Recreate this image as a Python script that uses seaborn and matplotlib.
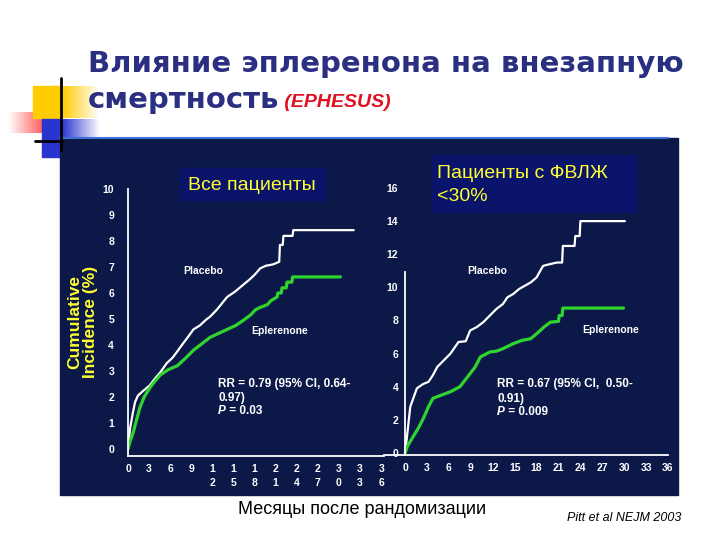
import numpy as np
import matplotlib.pyplot as plt
import seaborn as sns
from matplotlib.patches import Rectangle
from matplotlib.colors import to_rgb

sns.set_style("white")
plt.rcParams['font.family'] = ['Liberation Sans', 'DejaVu Sans']

# --- data (months, cumulative incidence %) ---
all_placebo_m = [0, 0.3, 0.7, 1.0, 1.4, 2.0, 3.1, 3.8, 4.6, 5.5, 6.3, 7.0, 7.8, 8.5, 9.3,
                 10.2, 11.0, 11.7, 12.6, 13.5, 14.1, 15.2, 16.3, 17.2, 18.0, 18.8, 19.6,
                 20.6, 21.5, 21.6, 22.0, 22.1, 23.4, 23.5, 32.1]
all_placebo_v = [0, 0.8, 1.4, 1.8, 2.05, 2.2, 2.45, 2.7, 2.95, 3.3, 3.5, 3.75, 4.05, 4.3, 4.6,
                 4.75, 4.95, 5.1, 5.35, 5.65, 5.85, 6.05, 6.3, 6.5, 6.7, 6.95, 7.05,
                 7.1, 7.2, 7.85, 7.85, 8.2, 8.2, 8.42, 8.42]
all_epl_m = [0, 0.3, 0.7, 1.2, 1.7, 2.3, 3.1, 3.8, 4.6, 5.7, 7.0, 8.2, 9.3, 10.5, 11.7,
             12.9, 14.1, 15.3, 16.4, 17.4, 18.1, 18.8, 19.8, 20.3, 21.2, 21.3, 21.8, 21.9,
             22.5, 22.6, 23.3, 23.4, 30.2]
all_epl_v = [0, 0.3, 0.6, 1.1, 1.6, 2.0, 2.35, 2.6, 2.85, 3.05, 3.2, 3.5, 3.8, 4.05, 4.3,
             4.45, 4.6, 4.75, 4.95, 5.15, 5.35, 5.45, 5.55, 5.7, 5.85, 6.0, 6.0, 6.2,
             6.2, 6.42, 6.42, 6.62, 6.62]

lv_placebo_m = [0, 0.3, 0.7, 1.6, 2.4, 3.2, 3.8, 4.4, 5.3, 6.2, 7.3, 8.3, 8.9, 9.8, 10.7,
                11.6, 12.5, 13.4, 14.0, 14.8, 15.6, 16.4, 17.2, 18.0, 18.5, 18.9, 19.8,
                20.8, 21.5, 21.6, 23.2, 23.3, 23.9, 24.0, 30.1]
lv_placebo_v = [0, 1.2, 2.8, 3.9, 4.15, 4.3, 4.7, 5.2, 5.6, 6.0, 6.7, 6.75, 7.4, 7.6, 7.9,
                8.3, 8.7, 9.0, 9.4, 9.6, 9.9, 10.1, 10.3, 10.6, 11.0, 11.3, 11.4,
                11.5, 11.5, 12.5, 12.5, 13.1, 13.1, 14.0, 14.0]
lv_epl_m = [0, 0.3, 1.1, 1.8, 2.5, 3.2, 3.8, 5.0, 6.2, 7.5, 8.2, 8.9, 9.6, 10.3, 11.6,
            12.5, 13.4, 14.8, 16.0, 17.2, 18.0, 19.0, 19.9, 21.0, 21.1, 21.5, 21.6, 29.9]
lv_epl_v = [0, 0.4, 1.0, 1.5, 2.1, 2.8, 3.3, 3.5, 3.7, 4.0, 4.4, 4.8, 5.2, 5.8, 6.1,
            6.15, 6.3, 6.6, 6.8, 6.9, 7.2, 7.6, 7.9, 7.95, 8.3, 8.3, 8.75, 8.75]

month_ticks = list(range(0, 37, 3))
left_xlabels = ["0", "3", "6", "9", "1\n2", "1\n5", "1\n8", "2\n1", "2\n4",
                "2\n7", "3\n0", "3\n3", "3\n6"]
left_yticks = list(range(0, 11))
right_yticks = list(range(0, 17, 2))

PANEL = "#0b1848"
BOX = "#0a146a"
GREEN = "#2fd42f"
YELLOW = "#ffff33"

fig = plt.figure(figsize=(7.2, 5.4), dpi=100)
fig.patch.set_facecolor("white")

# background / decoration layer in pixel coordinates
bg = fig.add_axes([0, 0, 1, 1], zorder=0)
bg.axis("off")


def gradient(x0, x1, y0, y1, color, fade="right"):
    n = 64
    img = np.zeros((1, n, 4))
    img[..., :3] = to_rgb(color)
    img[..., 3] = np.linspace(1, 0, n) if fade == "right" else np.linspace(0, 1, n)
    bg.imshow(img, extent=(x0, x1, y1, y0), aspect="auto", interpolation="bilinear")


bg.add_patch(Rectangle((33, 86), 29, 32, color="#ffcc00"))
gradient(62, 100, 86, 118, "#ffcc00", "right")
gradient(8, 56, 112, 133, "#ff2020", "left")
bg.add_patch(Rectangle((42, 119), 20, 38, color="#2a35d0"))
gradient(62, 100, 119, 138, "#2a35d0", "right")
bg.add_patch(Rectangle((60, 138), 618, 357, color=PANEL))
bg.plot([60, 668], [137.5, 137.5], color="#3d6fd6", lw=1.5)
bg.plot([61, 61], [78, 150], color="black", lw=2)
bg.plot([35, 62], [141, 141], color="black", lw=2)

# sub-title boxes
bg.add_patch(Rectangle((180, 168), 145, 32, color=BOX))
bg.add_patch(Rectangle((432, 155), 204, 57, color=BOX))
bg.text(252, 185, "Все пациенты", color=YELLOW, fontsize=14, ha="center", va="center")
bg.text(437, 185, "Пациенты с ФВЛЖ\n<30%", color=YELLOW, fontsize=14,
        ha="left", va="center", linespacing=1.4)

# title
bg.text(88, 64, "Влияние эплеренона на внезапную", fontsize=21, fontweight="bold",
        color="#2b2f82", va="center", family=["DejaVu Sans"])
t2 = bg.text(88, 100, "смертность", fontsize=21, fontweight="bold",
             color="#2b2f82", va="center", family=["DejaVu Sans"])
bg.annotate(" (EPHESUS)", xy=(1, 0.12), xycoords=t2, fontsize=14, fontweight="bold",
            style="italic", color="#e01020", va="bottom", ha="left")

bg.text(362, 510, "Месяцы после рандомизации", fontsize=13, color="black",
        ha="center", va="center")
bg.text(624, 518, "Pitt et al NEJM 2003", fontsize=9, style="italic", color="black",
        ha="center", va="center")

bg.text(83, 322, "Cumulative\nIncidence (%)", rotation=90, fontsize=12.5,
        fontweight="bold", color=YELLOW, ha="center", va="center", linespacing=1.05)

bg.set_xlim(0, 720)
bg.set_ylim(540, 0)


def style_axes(ax):
    ax.set_facecolor("none")
    for s in ["top", "right"]:
        ax.spines[s].set_visible(False)
    for s in ["left", "bottom"]:
        ax.spines[s].set_color("white")
        ax.spines[s].set_linewidth(1.3)
    ax.tick_params(colors="white", labelcolor="white", labelsize=7.5, width=1,
                   direction="out")
    for lab in ax.get_xticklabels() + ax.get_yticklabels():
        lab.set_fontweight("bold")
    ax.set_xlabel("")
    ax.set_ylabel("")


def draw(ax, m, v, color, lw):
    sns.lineplot(x=m, y=v, ax=ax, color=color, lw=lw, estimator=None, sort=False)


# left panel: all patients
ax1 = fig.add_axes([128 / 720, 1 - 456 / 540, 256 / 720, (456 - 187) / 540], zorder=2)
draw(ax1, all_placebo_m, all_placebo_v, "white", 1.6)
draw(ax1, all_epl_m, all_epl_v, GREEN, 2.3)
ax1.set_xlim(0, 36.4)
ax1.set_ylim(-0.27, 10.08)
ax1.set_xticks(month_ticks)
ax1.set_xticklabels(left_xlabels, linespacing=1.5)
ax1.set_yticks(left_yticks)
ax1.spines["left"].set_bounds(-0.27, 10)
style_axes(ax1)
ax1.tick_params(axis="y", length=4, pad=6)
ax1.tick_params(axis="x", length=3, pad=3)

ax1.text(10.7, 6.85, "Placebo", color="white", fontsize=7.5, fontweight="bold",
         ha="center", va="center")
ax1.text(21.6, 4.54, "Eplerenone", color="white", fontsize=7.5, fontweight="bold",
         ha="center", va="center")
rr1 = ax1.text(12.8, 2.75, "RR = 0.79 (95% CI, 0.64-\n0.97)", color="white", fontsize=8.5,
               fontweight="bold", ha="left", va="top", linespacing=1.25)
p1 = ax1.annotate("P", xy=(0, 0), xycoords=rr1, xytext=(0, -1), textcoords="offset points",
                  color="white", fontsize=8.5, fontweight="bold", style="italic",
                  ha="left", va="top")
ax1.annotate(" = 0.03", xy=(1, 0), xycoords=p1, color="white", fontsize=8.5,
             fontweight="bold", ha="left", va="bottom")

# right panel: LVEF < 30 %
ax2 = fig.add_axes([384 / 720, 1 - 455 / 540, 284 / 720, (455 - 185) / 540], zorder=2)
draw(ax2, lv_placebo_m, lv_placebo_v, "white", 1.6)
draw(ax2, lv_epl_m, lv_epl_v, GREEN, 2.3)
ax2.set_xlim(-2.9, 36)
ax2.set_ylim(-0.12, 16.18)
ax2.set_xticks(month_ticks)
ax2.set_yticks(right_yticks)
ax2.spines["left"].set_position(("data", 0))
ax2.spines["left"].set_bounds(-0.12, 10.9)
style_axes(ax2)
ax2.tick_params(axis="y", length=2, pad=3)
ax2.tick_params(axis="x", length=3, pad=3)

ax2.text(11.2, 11.0, "Placebo", color="white", fontsize=7.5, fontweight="bold",
         ha="center", va="center")
ax2.text(28.2, 7.43, "Eplerenone", color="white", fontsize=7.5, fontweight="bold",
         ha="center", va="center")
rr2 = ax2.text(12.6, 4.5, "RR = 0.67 (95% CI,  0.50-\n0.91)", color="white", fontsize=8.5,
               fontweight="bold", ha="left", va="top", linespacing=1.25)
p2 = ax2.annotate("P", xy=(0, 0), xycoords=rr2, xytext=(0, -1), textcoords="offset points",
                  color="white", fontsize=8.5, fontweight="bold", style="italic",
                  ha="left", va="top")
ax2.annotate(" = 0.009", xy=(1, 0), xycoords=p2, color="white", fontsize=8.5,
             fontweight="bold", ha="left", va="bottom")

fig.savefig("out.png", dpi=100)
